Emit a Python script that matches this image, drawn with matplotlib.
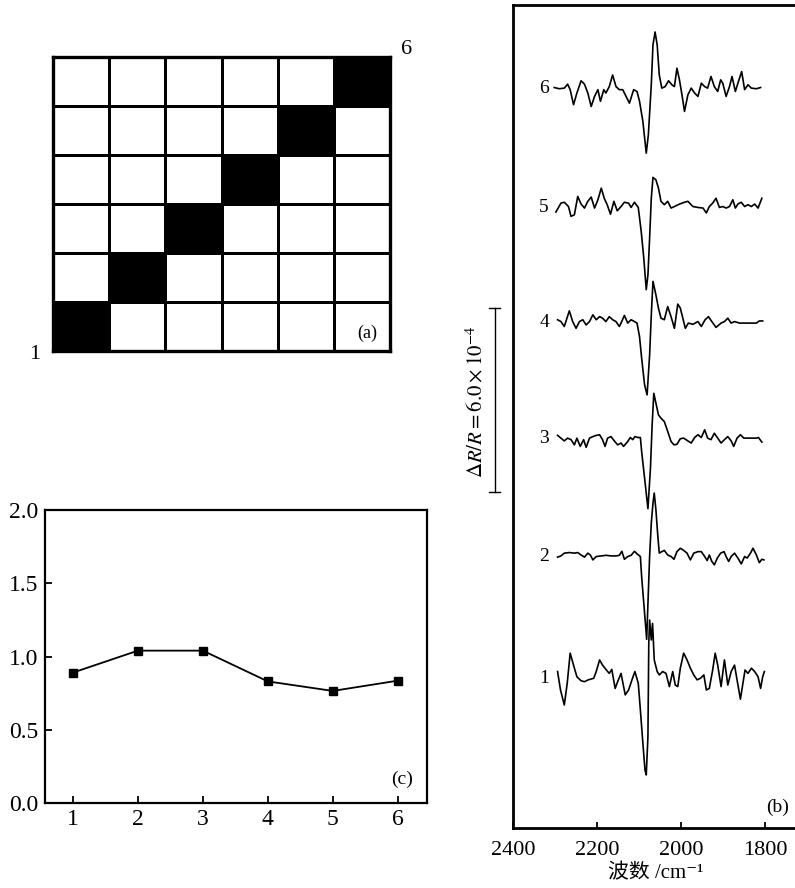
import matplotlib

matplotlib.use("Agg")
import matplotlib.pyplot as plt
import numpy as np
from matplotlib.colors import ListedColormap

plt.rcParams["font.family"] = ["Liberation Serif", "Noto Sans CJK SC", "DejaVu Serif"]
plt.rcParams["mathtext.fontset"] = "stix"

# ---------------------------------------------------------------------------
# Data
# ---------------------------------------------------------------------------

# (a) 6x6 map: column of the filled cell in each row, bottom row first
ACTIVE_COL = [0, 1, 2, 3, 4, 5]

# (c) ratio per sample
SAMPLES = [1, 2, 3, 4, 5, 6]
RATIO = [0.89, 1.04, 1.04, 0.83, 0.765, 0.835]

# (b) spectra: wavenumber (cm-1) and dR/R (x1e-4) relative to own baseline
WN_1 = [2294, 2287, 2278, 2271, 2264, 2256, 2248, 2238, 2230, 2221, 2208, 2202,
        2194, 2187, 2179, 2171, 2165, 2157, 2151, 2143, 2133, 2125, 2117, 2110,
        2102, 2097, 2091, 2086, 2083, 2079, 2077, 2075, 2071, 2068, 2064, 2057,
        2052, 2044, 2036, 2028, 2020, 2014, 2008, 2002, 1994, 1986, 1978, 1970,
        1962, 1954, 1946, 1940, 1933, 1925, 1919, 1913, 1905, 1897, 1889, 1881,
        1873, 1867, 1859, 1853, 1848, 1841, 1833, 1825, 1817, 1811, 1806, 1802]
DR_1 = [0.22, -0.38, -0.87, -0.16, 0.82, 0.43, 0.05, -0.08, -0.11, -0.05, 0.0, 0.22,
        0.60, 0.43, 0.29, 0.16, 0.29, -0.33, -0.11, 0.16, -0.54, -0.38, -0.05, 0.22,
        -0.16, -1.03, -2.12, -2.99, -3.15, -1.90, 1.14, 1.90, 1.25, 1.79, 0.60, 0.22,
        0.11, 0.22, 0.16, -0.27, 0.22, -0.22, -0.27, 0.33, 0.82, 0.60, 0.33, 0.11,
        -0.05, 0.0, 0.11, -0.38, -0.33, 0.27, 0.82, 0.43, -0.27, 0.60, -0.22, 0.22,
        0.43, -0.05, -0.68, -0.16, 0.27, 0.16, 0.33, 0.22, 0.05, -0.33, 0.05, 0.22]

WN_2 = [2294, 2286, 2278, 2266, 2254, 2246, 2238, 2230, 2222, 2216, 2210, 2202,
        2190, 2179, 2167, 2155, 2147, 2141, 2135, 2127, 2119, 2111, 2105, 2097,
        2094, 2089, 2082, 2075, 2071, 2067, 2064, 2060, 2056, 2052, 2046, 2040,
        2032, 2024, 2017, 2010, 2002, 1994, 1986, 1978, 1970, 1960, 1952, 1944,
        1938, 1933, 1927, 1921, 1914, 1906, 1898, 1893, 1887, 1881, 1873, 1865,
        1857, 1849, 1843, 1835, 1829, 1821, 1814, 1808, 1803]
DR_2 = [-0.02, 0.02, 0.11, 0.13, 0.11, 0.13, 0.05, -0.02, 0.11, 0.05, -0.11, 0.0,
        0.02, 0.04, 0.02, 0.02, 0.04, 0.17, -0.09, 0.0, 0.04, 0.17, 0.09, 0.0,
        -0.65, -1.50, -2.70, 0.0, 1.09, 1.74, 2.07, 1.52, 0.76, 0.11, 0.16, 0.20,
        0.05, 0.0, -0.09, 0.16, 0.27, 0.20, 0.11, -0.11, 0.11, 0.16, 0.16, 0.0,
        -0.13, 0.05, -0.16, -0.27, -0.05, 0.11, 0.16, 0.0, -0.16, 0.0, 0.11, -0.05,
        -0.24, 0.0, -0.05, 0.11, 0.27, 0.05, -0.20, -0.09, -0.11]

WN_3 = [2294, 2286, 2278, 2270, 2262, 2254, 2248, 2240, 2232, 2226, 2218, 2210,
        2202, 2194, 2187, 2181, 2175, 2167, 2159, 2151, 2143, 2137, 2127, 2121,
        2115, 2110, 2103, 2097, 2094, 2087, 2079, 2073, 2069, 2065, 2060, 2054,
        2048, 2040, 2032, 2024, 2017, 2010, 2002, 1994, 1984, 1976, 1968, 1960,
        1952, 1944, 1937, 1929, 1921, 1913, 1905, 1897, 1889, 1881, 1875, 1867,
        1859, 1851, 1841, 1829, 1821, 1816, 1808]
DR_3 = [0.09, 0.0, -0.09, 0.0, -0.05, -0.22, 0.0, -0.27, -0.05, -0.30, 0.0, 0.05,
        0.09, 0.11, -0.05, -0.27, 0.0, 0.05, -0.09, -0.22, -0.16, -0.27, -0.11, 0.02,
        -0.05, 0.05, 0.02, 0.02, -0.43, -1.30, -2.30, -0.98, 0.43, 1.46, 1.14, 0.76,
        0.65, 0.54, 0.22, -0.11, -0.22, -0.20, -0.02, 0.0, -0.09, -0.16, 0.02, 0.11,
        0.02, 0.27, 0.0, -0.05, 0.16, 0.0, -0.16, -0.05, 0.05, -0.09, -0.27, 0.0,
        0.11, 0.0, 0.0, 0.0, 0.0, 0.02, -0.13]

WN_4 = [2294, 2286, 2278, 2266, 2258, 2250, 2242, 2234, 2226, 2218, 2210, 2202,
        2194, 2187, 2179, 2171, 2163, 2155, 2147, 2143, 2135, 2127, 2119, 2111,
        2105, 2099, 2094, 2087, 2081, 2075, 2071, 2067, 2060, 2054, 2048, 2040,
        2032, 2024, 2016, 2008, 2002, 1996, 1990, 1983, 1972, 1960, 1952, 1943,
        1935, 1927, 1917, 1905, 1897, 1889, 1881, 1873, 1861, 1849, 1833, 1821,
        1814, 1806]
DR_4 = [0.08, 0.02, -0.14, 0.37, 0.02, -0.20, 0.02, 0.08, -0.09, 0.02, 0.24, 0.08,
        0.18, 0.13, 0.02, 0.18, 0.08, 0.02, -0.14, -0.03, 0.22, -0.03, 0.08, 0.02,
        -0.03, -0.47, -1.17, -2.04, -2.37, -1.07, 0.24, 1.33, 0.89, 0.46, 0.13, 0.08,
        0.51, 0.18, -0.20, 0.59, 0.46, 0.13, -0.20, -0.03, -0.07, 0.02, -0.14, 0.08,
        0.18, 0.02, -0.17, -0.03, 0.02, 0.13, -0.03, 0.02, -0.03, -0.03, -0.03, -0.03,
        0.04, 0.04]

WN_5 = [2298, 2286, 2278, 2268, 2262, 2254, 2246, 2238, 2230, 2222, 2214, 2206,
        2198, 2190, 2183, 2176, 2168, 2160, 2152, 2143, 2135, 2125, 2119, 2111,
        2102, 2095, 2089, 2083, 2079, 2075, 2071, 2067, 2060, 2054, 2048, 2040,
        2032, 2024, 2016, 2004, 1992, 1984, 1972, 1960, 1948, 1940, 1933, 1925,
        1917, 1909, 1901, 1893, 1885, 1877, 1871, 1865, 1857, 1849, 1841, 1833,
        1825, 1817, 1808]
DR_5 = [-0.15, 0.14, 0.17, 0.03, -0.29, -0.24, 0.36, 0.11, -0.02, 0.20, 0.34, -0.02,
        0.25, 0.63, 0.30, 0.09, -0.22, 0.20, -0.11, 0.03, 0.17, 0.14, 0.0, 0.17,
        0.0, -0.78, -1.63, -2.68, -2.20, -1.00, 0.30, 0.98, 0.90, 0.63, 0.20, 0.09,
        0.20, -0.02, 0.03, 0.11, 0.17, 0.20, 0.03, 0.0, -0.02, -0.18, 0.03, 0.14,
        0.30, 0.0, 0.03, -0.02, 0.03, 0.25, -0.02, 0.11, 0.17, 0.03, 0.09, 0.03,
        0.11, -0.02, 0.30]

WN_6 = [2302, 2290, 2278, 2270, 2264, 2256, 2248, 2238, 2230, 2222, 2214, 2206,
        2198, 2192, 2184, 2179, 2171, 2163, 2155, 2147, 2139, 2131, 2123, 2113,
        2105, 2099, 2091, 2083, 2078, 2071, 2067, 2062, 2057, 2052, 2046, 2038,
        2030, 2022, 2016, 2010, 2004, 1998, 1992, 1984, 1976, 1968, 1960, 1952,
        1944, 1937, 1929, 1921, 1913, 1906, 1901, 1893, 1885, 1879, 1871, 1865,
        1856, 1849, 1841, 1833, 1821, 1811]
DR_6 = [0.02, -0.02, 0.0, 0.13, -0.05, -0.54, -0.16, 0.24, 0.13, -0.16, -0.60, -0.27,
        -0.05, -0.43, -0.05, -0.16, 0.05, 0.43, 0.05, -0.05, -0.05, -0.27, -0.49, -0.05,
        -0.11, -0.43, -1.09, -2.12, -1.52, 0.11, 1.41, 1.83, 1.41, 0.43, 0.0, 0.05,
        0.24, 0.11, 0.05, 0.65, 0.27, -0.22, -0.76, -0.22, 0.0, -0.16, -0.27, 0.16,
        0.05, 0.0, 0.38, 0.05, -0.11, 0.27, 0.16, -0.27, 0.05, 0.38, -0.11, 0.16,
        0.54, -0.05, 0.11, 0.0, -0.02, 0.02]

TRACES = [(WN_1, DR_1), (WN_2, DR_2), (WN_3, DR_3),
          (WN_4, DR_4), (WN_5, DR_5), (WN_6, DR_6)]
TRACE_LABELS = ["1", "2", "3", "4", "5", "6"]
OFFSETS = [4.88, 8.85, 12.71, 16.49, 20.23, 24.12]
SCALE_BAR = 6.0  # dR/R in units of 1e-4

W, H = 795, 888
fig = plt.figure(figsize=(W / 100, H / 100), dpi=100)


def px_axes(left, top, right, bottom):
    """Axes placed by pixel box (origin top-left)."""
    return fig.add_axes([left / W, 1 - bottom / H, (right - left) / W, (bottom - top) / H])


# ── (a) grid map ─────────────────────────────────────────────────────────
ax_a = px_axes(53, 57, 390, 351)
grid = np.zeros((6, 6))
for row, col in enumerate(ACTIVE_COL):
    grid[row, col] = 1
ax_a.pcolormesh(np.arange(7), np.arange(7), grid,
                cmap=ListedColormap(["white", "black"]),
                edgecolors="black", linewidth=2.0)
ax_a.set_xlim(0, 6)
ax_a.set_ylim(0, 6)
ax_a.set_xticks([])
ax_a.set_yticks([])
for s in ax_a.spines.values():
    s.set_linewidth(2.4)
ax_a.text(0.932, 0.06, "(a)", transform=ax_a.transAxes, ha="center", va="center", fontsize=13)
fig.text(407 / W, 1 - 50 / H, "6", ha="center", va="center", fontsize=16)
fig.text(35 / W, 1 - 354 / H, "1", ha="center", va="center", fontsize=16)

# ── (c) ratio per sample ─────────────────────────────────────────────────
ax_c = px_axes(45, 510, 427, 803)
ax_c.plot(SAMPLES, RATIO, color="black", lw=1.3, marker="s", ms=5.5)
ax_c.set_xlim(0.57, 6.45)
ax_c.set_ylim(0, 2.0)
ax_c.set_xticks(SAMPLES)
ax_c.set_yticks([0.0, 0.5, 1.0, 1.5, 2.0])
ax_c.set_yticklabels(["0.0", "0.5", "1.0", "1.5", "2.0"])
ax_c.tick_params(direction="in", length=5, width=1.3, labelsize=17)
ax_c.tick_params(axis="x", pad=4)
ax_c.tick_params(axis="y", pad=5)
for s in ax_c.spines.values():
    s.set_linewidth(1.6)
ax_c.text(0.935, 0.08, "(c)", transform=ax_c.transAxes, ha="center", va="center", fontsize=14)

# ── (b) spectra ──────────────────────────────────────────────────────────
ax_b = px_axes(513, 5, 798, 828)
for (wn, dr), off, lab in zip(TRACES, OFFSETS, TRACE_LABELS):
    ax_b.plot(wn, np.asarray(dr) + off, color="black", lw=1.2)
    ax_b.text(2326, off, lab, ha="center", va="center", fontsize=14)
ax_b.set_xlim(2400, 1722)
ax_b.set_ylim(0, 26.83)
ax_b.set_xticks([2400, 2200, 2000, 1800])
ax_b.set_yticks([])
ax_b.tick_params(axis="x", direction="in", length=4, width=1.3, labelsize=16, pad=9)
ax_b.spines["right"].set_visible(False)
for s in ("left", "top", "bottom"):
    ax_b.spines[s].set_linewidth(2.0)
ax_b.set_xlabel("波数 /cm⁻¹", fontsize=15, labelpad=3)
ax_b.text(0.93, 0.025, "(b)", transform=ax_b.transAxes, ha="center", va="center", fontsize=14)

# scale bar outside the left spine
bar_x, bar_y0, cap = 2443, 10.95, 13
ax_b.plot([bar_x, bar_x], [bar_y0, bar_y0 + SCALE_BAR], color="black", lw=1.0, clip_on=False)
for yy in (bar_y0, bar_y0 + SCALE_BAR):
    ax_b.plot([bar_x - cap, bar_x + cap], [yy, yy], color="black", lw=1.0, clip_on=False)
ax_b.text(2486, bar_y0 + SCALE_BAR / 2 - 0.05,
          r"$\Delta R/R = %.1f\times10^{-4}$" % SCALE_BAR,
          rotation=90, ha="center", va="center", fontsize=15, clip_on=False)

fig.savefig("out.png", dpi=100)
